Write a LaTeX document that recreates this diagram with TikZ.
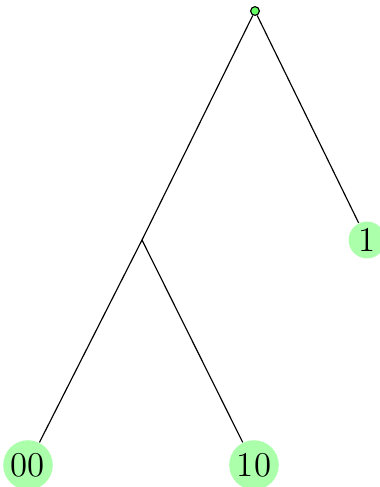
\documentclass[tikz,border=0pt]{standalone}
\usepackage{tikz}
\usetikzlibrary{positioning}
\tikzset{
    % Tree node styles
    root node/.style={circle, draw, fill=green!60, minimum size=3pt, inner sep=0pt},
    leaf/.style={circle, fill=green!33, inner sep=1pt, font=\large},
    branch/.style={thin},
}

\begin{document}
\begin{tikzpicture}[x=0.345pt, y=-0.345pt]
    \useasboundingbox (0, 0) rectangle (379, 487);

    % Root and inner split
    \node[root node] (root) at (255, 11) {};
    \coordinate (inner) at (142, 240);

    % Leaves
    \node[leaf] (one) at (367, 240) {1};
    \node[leaf] (zz) at (28, 465) {00};
    \node[leaf] (oz) at (254, 465) {10};

    % Branches
    \draw[branch] (root) -- (inner);
    \draw[branch] (root) -- (one);
    \draw[branch] (inner) -- (zz);
    \draw[branch] (inner) -- (oz);
\end{tikzpicture}
\end{document}
